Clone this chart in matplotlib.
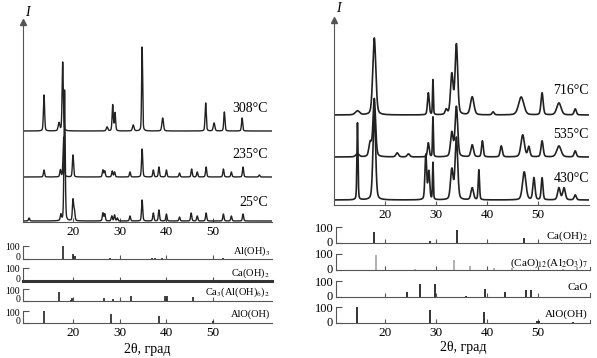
import numpy as np
import matplotlib
matplotlib.use("Agg")
import matplotlib.pyplot as plt
import matplotlib.transforms as mtransforms

plt.rcParams['font.family'] = ['Liberation Serif', 'DejaVu Serif']
plt.rcParams['mathtext.fontset'] = 'stix'

# ---------------- data ----------------
# left panel, measured patterns: peak position (2theta), height, width
t308_pos = [13.8, 17.0, 17.8, 27.3, 28.5, 29.0, 32.9, 34.8, 39.2, 48.4, 50.2, 52.4, 56.2]
t308_h = [36, 8, 69, 4, 26, 18, 6, 84, 13, 28, 8, 19, 13]
t308_w = [0.3, 0.4, 0.3, 0.4, 0.3, 0.3, 0.4, 0.25, 0.4, 0.3, 0.4, 0.3, 0.3]

t235_pos = [13.8, 17.3, 18.0, 20.0, 26.4, 26.8, 28.4, 28.9, 32.2, 34.8, 37.2, 38.4,
            40.0, 42.8, 45.4, 46.6, 48.5, 52.2, 53.9, 56.4, 59.9]
t235_h = [7, 7, 40, 22, 7, 6, 6, 5, 5, 28, 7, 10, 7, 4, 8, 5, 10, 8, 5, 10, 2]
t235_w = [0.3] * len(t235_pos)

t25_pos = [10.6, 17.4, 18.2, 20.0, 20.3, 26.4, 26.8, 28.3, 28.9, 29.5, 32.2, 34.8,
           37.2, 38.4, 40.0, 42.8, 45.3, 46.6, 48.5, 52.2, 53.9, 56.4]
t25_h = [3, 6, 131, 21, 10, 8, 7, 5, 6, 3, 5, 21, 8, 11, 7, 4, 8, 5, 8, 7, 5, 7]
t25_w = [0.3] * len(t25_pos)

left_offsets = [91, 45, 1]
left_temps = ['308°C', '235°C', '25°C']

# right panel, measured patterns
t716_pos = [14.6, 17.9, 28.5, 29.4, 32.0, 33.1, 34.0, 37.1, 41.2, 46.7, 50.8, 54.1, 57.3]
t716_h = [4, 77, 22, 35, 5, 40, 70, 18, 3, 18, 22, 12, 6]
t716_w = [1.0, 0.7, 0.4, 0.2, 0.5, 0.6, 0.6, 0.8, 0.5, 1.2, 0.5, 1.0, 0.5]

t535_pos = [14.6, 17.1, 17.9, 22.4, 24.6, 28.5, 29.4, 33.1, 34.0, 37.1, 39.1, 42.8,
            47.0, 48.2, 50.8, 54.1, 57.3]
t535_h = [3, 14, 58, 4, 3, 14, 40, 24, 50, 12, 16, 11, 22, 10, 16, 11, 6]
t535_w = [0.8, 0.6, 0.6, 0.6, 0.6, 0.4, 0.2, 0.6, 0.6, 0.6, 0.4, 0.5, 0.8, 0.5, 0.5, 1.0, 0.5]

t430_pos = [14.6, 17.9, 28.0, 28.6, 29.4, 33.1, 34.0, 37.1, 38.4, 47.3, 49.2, 50.8,
            54.1, 55.1, 57.3]
t430_h = [77, 90, 45, 28, 37, 30, 62, 12, 30, 28, 22, 22, 12, 12, 5]
t430_w = [0.25, 0.6, 0.4, 0.4, 0.2, 0.6, 0.6, 0.6, 0.3, 0.8, 0.5, 0.4, 0.6, 0.6, 0.5]

right_offsets = [90, 48, 5]
right_temps = ['716°C', '535°C', '430°C']

# left reference cards (position, relative intensity)
l_aloh3_pos = [17.9, 20.1, 20.4, 26.8, 27.9, 33.0, 36.9, 37.6, 39.0, 42.3, 44.3,
               45.4, 47.1, 52.1, 54.3, 55.2, 57.5]
l_aloh3_int = [100, 40, 20, 3, 4, 3, 4, 6, 5, 3, 3, 3, 3, 4, 3, 3, 3]
l_caoh2_pos = []
l_caoh2_int = []
l_ca3_pos = [16.9, 19.6, 19.8, 26.6, 28.6, 32.4, 39.8, 40.1, 45.6]
l_ca3_int = [74, 12, 25, 26, 18, 41, 41, 38, 37]
l_alooh_pos = [13.9, 28.1, 38.5, 49.9]
l_alooh_int = [100, 75, 60, 15]
left_cards = ['Al(OH)$_3$', 'Ca(OH)$_2$', 'Ca$_3$(Al(OH)$_6$)$_2$', 'AlO(OH)']

# right reference cards
r_caoh2_pos = [17.9, 28.8, 34.2, 47.3]
r_caoh2_int = [66, 11, 80, 33]
r_c12a7_pos = [18.2, 25.9, 33.5, 36.7, 41.3, 44.9, 55.0, 57.6]
r_c12a7_int = [95, 4, 63, 28, 15, 10, 8, 18]
r_cao_pos = [24.3, 26.9, 29.9, 35.8, 39.7, 43.6, 47.7, 48.7]
r_cao_int = [28, 79, 79, 3, 48, 31, 45, 45]
r_alooh_pos = [14.6, 28.9, 39.5, 49.9, 50.2, 56.9]
r_alooh_int = [100, 84, 70, 15, 15, 5]
right_cards = ['Ca(OH)$_2$', '(CaO)$_{12}$(Al$_2$O$_3$)$_7$', 'CaO', 'AlO(OH)']

xticks = [20, 30, 40, 50]

# ---------------- figure ----------------
W, H = 597, 358
fig = plt.figure(figsize=(W / 100, H / 100), dpi=100)
axc = '#555555'
ink = '#222222'


def px_axes(l, t, r, b):
    return fig.add_axes([l / W, 1 - b / H, (r - l) / W, (b - t) / H])


def profile(x, pos, h, w):
    y = np.zeros_like(x)
    for p, a, s in zip(pos, h, w):
        g = np.exp(-4 * np.log(2) * ((x - p) / s) ** 2)
        lo = 1 / (1 + 4 * ((x - p) / s) ** 2)
        y += a * (0.7 * g + 0.3 * lo)
    return y


def style_main(ax, xlim, ylim):
    ax.set_xlim(*xlim)
    ax.set_ylim(*ylim)
    for s in ['top', 'right']:
        ax.spines[s].set_visible(False)
    for s in ['left', 'bottom']:
        ax.spines[s].set_color(axc)
        ax.spines[s].set_linewidth(0.8)
    ax.set_yticks([])
    ax.set_xticks(xticks)
    ax.tick_params(axis='x', direction='in', length=3, color=axc, labelsize=9.5, pad=3)
    ax.plot(0, 1, marker='^', ms=4, color=axc, transform=ax.transAxes, clip_on=False)


def style_card(ax, xlim, last, fs, lift0, drop100, right_tick=False):
    ax.set_xlim(*xlim)
    ax.set_ylim(0, 100)
    for s in ['top', 'right']:
        ax.spines[s].set_visible(False)
    for s in ['left', 'bottom']:
        ax.spines[s].set_color(axc)
        ax.spines[s].set_linewidth(0.8)
    if right_tick:
        ax.spines['right'].set_visible(True)
        ax.spines['right'].set_bounds(0, 20)
        ax.spines['right'].set_color(axc)
        ax.spines['right'].set_linewidth(0.8)
    ax.set_yticks([0, 100])
    ax.set_xticks(xticks)
    ax.tick_params(axis='y', direction='in', length=4, color=axc, labelsize=fs, pad=2)
    ax.tick_params(axis='x', direction='in', length=3, color=axc, labelsize=9.5, pad=3,
                   labelbottom=last)
    # nudge the 0 / 100 labels so neighbouring cards do not collide
    lab0, lab100 = ax.get_yticklabels()
    lab0.set_transform(lab0.get_transform() +
                       mtransforms.ScaledTranslation(0, lift0 / 100, fig.dpi_scale_trans))
    lab100.set_transform(lab100.get_transform() +
                         mtransforms.ScaledTranslation(0, -drop100 / 100, fig.dpi_scale_trans))


# ----- left panel -----
lx = (9.3, 62.6)
ax = px_axes(23, 22, 272, 222)
style_main(ax, lx, (0, 200))
x = np.linspace(lx[0], lx[1], 3000)
left_data = [(t308_pos, t308_h, t308_w), (t235_pos, t235_h, t235_w), (t25_pos, t25_h, t25_w)]
for (p, h, w), off in zip(left_data, left_offsets):
    ax.plot(x, off + profile(x, p, h, w), color=ink, lw=1.0)
for lab, yy in zip(left_temps, [109, 154, 202]):
    fig.text(268 / W, 1 - yy / H, lab, ha='right', va='center', fontsize=10)
fig.text(25 / W, 1 - 13 / H, 'I', style='italic', fontsize=10, ha='left', va='center')

left_rows = [(246, 259), (268, 281), (289, 301), (311, 323)]
left_sticks = [(l_aloh3_pos, l_aloh3_int), (l_caoh2_pos, l_caoh2_int),
               (l_ca3_pos, l_ca3_int), (l_alooh_pos, l_alooh_int)]
label_y = [251, 273, 292, 314]
for i, ((t, b), (p, v), name) in enumerate(zip(left_rows, left_sticks, left_cards)):
    a = px_axes(23, t, 272, b)
    style_card(a, lx, i == 3, 7, 2, 1)
    if i == 1:
        a.spines['bottom'].set_linewidth(2.2)
        a.spines['bottom'].set_color('#333333')
    a.vlines(p, 0, v, color=ink, lw=1.2)
    fig.text(270 / W, 1 - label_y[i] / H, name, ha='right', va='center', fontsize=7.5)
fig.text(147 / W, 1 - 350 / H, '2θ, град', ha='center', va='center', fontsize=10)

# ----- right panel -----
rx = (10, 60)
ax2 = px_axes(334, 20, 589, 205)
style_main(ax2, rx, (0, 185))
x2 = np.linspace(rx[0], rx[1], 3000)
right_data = [(t716_pos, t716_h, t716_w), (t535_pos, t535_h, t535_w), (t430_pos, t430_h, t430_w)]
for (p, h, w), off in zip(right_data, right_offsets):
    ax2.plot(x2, off + profile(x2, p, h, w), color=ink, lw=1.2)
for lab, yy in zip(right_temps, [90, 134, 178]):
    fig.text(589 / W, 1 - yy / H, lab, ha='right', va='center', fontsize=10)
fig.text(336 / W, 1 - 8 / H, 'I', style='italic', fontsize=10, ha='left', va='center')

right_rows = [(227, 243), (254, 270), (281, 296.5), (307, 323)]
right_sticks = [(r_caoh2_pos, r_caoh2_int), (r_c12a7_pos, r_c12a7_int),
                (r_cao_pos, r_cao_int), (r_alooh_pos, r_alooh_int)]
stick_cols = [ink, '#aaaaaa', ink, ink]
rlabel_y = [236, 263, 287, 314]
rx2 = (10.4, 60.2)
for i, ((t, b), (p, v), name) in enumerate(zip(right_rows, right_sticks, right_cards)):
    a = px_axes(336, t, 590, b)
    style_card(a, rx2, i == 3, 9, 1.5, 0, right_tick=True)
    a.vlines(p, 0, v, color=stick_cols[i], lw=1.3)
    fig.text(588 / W, 1 - rlabel_y[i] / H, name, ha='right', va='center', fontsize=8)
fig.text(463 / W, 1 - 347 / H, '2θ, град', ha='center', va='center', fontsize=10)

fig.savefig('out.png', dpi=100)
